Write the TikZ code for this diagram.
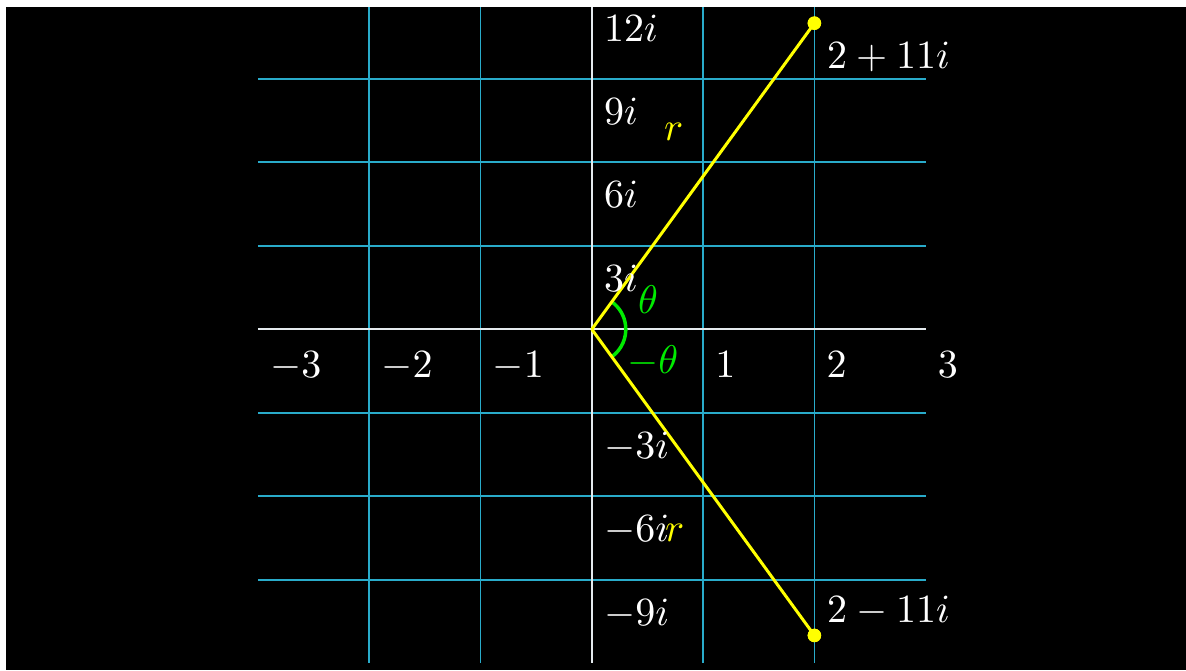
\documentclass[tikz,border=0pt]{standalone}
\definecolor{gridblue}{RGB}{41,171,202}
\definecolor{axiswhite}{RGB}{228,234,238}
\definecolor{ptyellow}{RGB}{255,255,0}
\definecolor{anggreen}{RGB}{0,235,0}
\newcommand{\plbl}[1]{\scalebox{4}{\normalsize$#1$}}
\tikzset{
  gridline/.style={draw=gridblue, line width=1.8pt},
  axisline/.style={draw=axiswhite, line width=2.2pt},
  vecline/.style={draw=ptyellow, line width=3pt},
  ptdot/.style={circle, fill=ptyellow, inner sep=0pt, minimum size=13.5pt},
  lab/.style={text=white, inner sep=0pt, anchor=base west},
  ylab/.style={lab, text=ptyellow},
  glab/.style={lab, text=anggreen},
  angarc/.style={draw=anggreen, line width=3.5pt}
}
\begin{document}
\begin{tikzpicture}[x=1pt,y=-1pt]
\useasboundingbox (0,0) rectangle (1186,670);
\fill[white] (0,0) rectangle (1186,670);
\fill[black] (6,7) rectangle (1186,670);
\begin{scope}[shift={(591.8,329.3)}]
\begin{scope}[x=111.3pt,y=27.83pt]
  % grid
  \foreach \xx in {-2,-1,1,2} \draw[gridline] (\xx,-11.99) -- (\xx,11.58);
  \foreach \yy in {-9,-6,-3,3,6,9} \draw[gridline] (-3,\yy) -- (3,\yy);
  % axes
  \draw[axisline] (-3,0) -- (3,0);
  \draw[axisline] (0,-11.99) -- (0,11.58);
  \coordinate (O) at (0,0);
  % angle arc
  \draw[angarc] ([shift={(-54.0:34pt)}]O) arc[start angle=-54.0, end angle=54.0, radius=34pt];
  % vectors
  \node[ptdot] (P) at (2,11) {};
  \node[ptdot] (Q) at (2,-11) {};
  \draw[vecline] (O) -- (P.center);
  \draw[vecline] (O) -- (Q.center);
  \node[ptdot] at (P.center) {};
  \node[ptdot] at (Q.center) {};
\end{scope}
\end{scope}
% real axis labels
\node[lab] (xm3) at (270,377) {\plbl{-3}};
\node[lab] (xm2) at (381.2,377) {\plbl{-2}};
\node[lab] (xm1) at (492.5,377) {\plbl{-1}};
\node[lab] (x1) at (715.1,377) {\plbl{1}};
\node[lab] (x2) at (826.4,377) {\plbl{2}};
\node[lab] (x3) at (937.7,377) {\plbl{3}};
% imaginary axis labels
\node[lab] (y12) at (604,41) {\plbl{12i}};
\node[lab] (y9) at (604,124) {\plbl{9i}};
\node[lab] (y6) at (604,207.5) {\plbl{6i}};
\node[lab] (y3) at (604,291) {\plbl{3i}};
\node[lab] (ym3) at (604,458) {\plbl{-3i}};
\node[lab] (ym6) at (604,541.5) {\plbl{-6i}};
\node[lab] (ym9) at (604,625) {\plbl{-9i}};
% point labels
\node[lab] (Pl) at (827,68) {\plbl{2+11i}};
\node[lab] (Ql) at (827,622) {\plbl{2-11i}};
% r labels
\node[ylab] (r1) at (664,140) {\plbl{r}};
\node[ylab] (r2) at (665,541) {\plbl{r}};
% angle labels
\node[glab] (th) at (638,313) {\plbl{\theta}};
\node[glab] (mth) at (627,373) {\plbl{-\theta}};
\end{tikzpicture}
\end{document}
